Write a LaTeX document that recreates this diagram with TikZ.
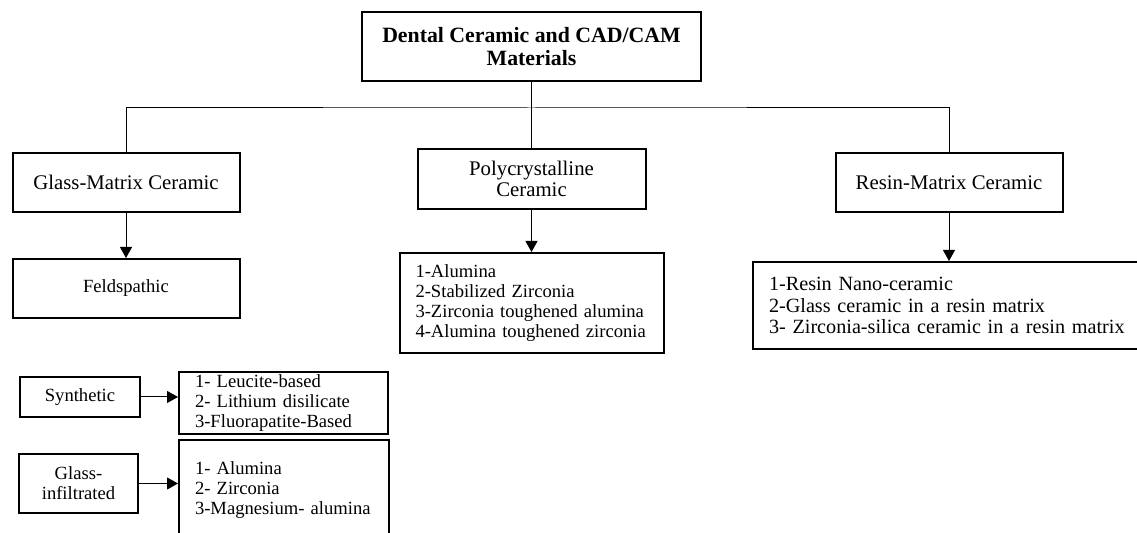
\documentclass[tikz,border=0pt]{standalone}
\usepackage{fontspec}
\setmainfont{Liberation Serif}
\usetikzlibrary{positioning,arrows.meta}

\begin{document}
\begin{tikzpicture}[x=0.5pt,y=-0.5pt,
  box/.style={draw,line width=1pt,rectangle,inner sep=0pt,align=center,
    font=\fontsize{10.4}{10.5}\selectfont},
  small/.style={font=\fontsize{9.3}{10}\selectfont},
  listbox/.style={box,align=left,inner xsep=8pt,inner ysep=0pt},
  link/.style={line width=0.5pt},
  arr/.style={link,-{Triangle[length=5.5pt,width=6pt]}}]
  \clip (0,0) rectangle (1137,533);
  % root of the tree
  \node[box,minimum width=169.5pt,minimum height=34.5pt,
    font=\fontsize{10.9}{11.5}\selectfont\bfseries] (title) at (531.5,46.5)
    {Dental Ceramic and CAD/CAM\\Materials};
  % the three classes
  \node[box,minimum width=113.5pt,minimum height=29.5pt] (glass) at (126,182.5) {Glass-Matrix Ceramic};
  \node[box,minimum width=114pt,minimum height=30pt] (poly) at (531.5,179) {Polycrystalline\\Ceramic};
  \node[box,minimum width=113.5pt,minimum height=29.5pt] (resin) at (949,182.5) {Resin-Matrix Ceramic};
  \coordinate (bus) at (531.5,108);
  \draw[link] (title) -- (poly);
  \draw[link] (glass.north) |- (bus) -| (resin.north);
  % what each class holds
  \node[box,small,minimum width=113.5pt,minimum height=29.5pt] (feld) at (126,288.5) {Feldspathic};
  \node[listbox,small,text width=116pt,minimum height=50pt] (polylist) at (531.5,303)
    {\mbox{1-Alumina}\\\mbox{2-Stabilized Zirconia}\\\mbox{3-Zirconia toughened alumina}\\\mbox{4-Alumina toughened zirconia}};
  \node[listbox,text width=180pt,minimum height=43.5pt,font=\fontsize{10.1}{10.7}\selectfont] (resinlist) at (949,305.5)
    {\mbox{1-Resin Nano-ceramic}\\\mbox{2-Glass ceramic in a resin matrix}\\\mbox{3- Zirconia-silica ceramic in a resin matrix}};
  \draw[arr] (glass) -- (feld);
  \draw[arr] (poly) -- (polylist);
  \draw[arr] (resin) -- (resinlist);
  % sub-groups of the glass-matrix ceramics
  \node[box,small,minimum width=60pt,minimum height=20pt] (synth) at (80,397) {Synthetic};
  \node[listbox,small,text width=88.5pt,minimum height=31pt] (synlist) at (283.5,403)
    {\mbox{1- Leucite-based}\\\mbox{2- Lithium disilicate}\\\mbox{3-Fluorapatite-Based}};
  \node[box,small,minimum width=59.5pt,minimum height=29.5pt] (infil) at (78.5,483.5) {Glass-\\infiltrated};
  \node[listbox,small,text width=89pt,minimum height=50.5pt] (inflist) at (284,490.5)
    {\mbox{1- Alumina}\\\mbox{2- Zirconia}\\\mbox{3-Magnesium- alumina}};
  \draw[arr] (synth.east) -- (synth.east -| synlist.west);
  \draw[arr] (infil.east) -- (infil.east -| inflist.west);
\end{tikzpicture}
\end{document}
